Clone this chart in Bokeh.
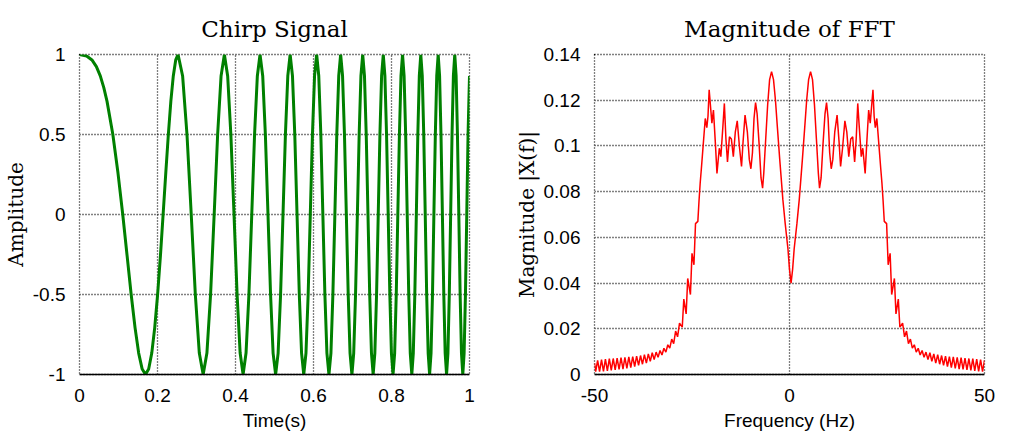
from bokeh.plotting import figure
from bokeh.layouts import row
from bokeh.models import Range1d, FixedTicker, PrintfTickFormatter
from bokeh.embed import file_html
from bokeh.resources import INLINE

# ---------------- data: chirp signal ----------------
time_s = [
    0.0, 0.0182, 0.0319, 0.0433, 0.0533, 0.0623, 0.0706, 0.0855, 0.0987, 0.1109, 0.1221, 0.1325, 0.1424,
    0.1517, 0.1607, 0.1692, 0.1774, 0.1853, 0.1929, 0.2003, 0.2075, 0.2144, 0.2212,
    0.2278, 0.2342, 0.2405, 0.2467, 0.2527,
    0.2644, 0.2756, 0.2865, 0.2970, 0.3072, 0.3171, 0.3267, 0.3361, 0.3453, 0.3542, 0.3630, 0.3715,
    0.3799, 0.3881, 0.3962, 0.4041, 0.4119, 0.4195, 0.4270, 0.4344, 0.4417, 0.4489, 0.4560, 0.4629,
    0.4698, 0.4766, 0.4833, 0.4899, 0.4964, 0.5029, 0.5093, 0.5156, 0.5218, 0.5280, 0.5341, 0.5401,
    0.5461, 0.5520, 0.5578, 0.5636, 0.5694, 0.5750, 0.5807, 0.5863, 0.5918, 0.5973, 0.6027, 0.6081,
    0.6135, 0.6188, 0.6240, 0.6292, 0.6344, 0.6396, 0.6447, 0.6497, 0.6548, 0.6597, 0.6647, 0.6696,
    0.6745, 0.6794, 0.6842, 0.6890, 0.6937, 0.6985, 0.7031, 0.7078, 0.7125, 0.7171, 0.7216, 0.7262,
    0.7307, 0.7352, 0.7397, 0.7441, 0.7486, 0.7530, 0.7573, 0.7617, 0.7660, 0.7703, 0.7746, 0.7789,
    0.7831, 0.7873, 0.7915, 0.7957, 0.7998, 0.8040, 0.8081, 0.8122, 0.8162, 0.8203, 0.8243, 0.8283,
    0.8323, 0.8363, 0.8403, 0.8442, 0.8481, 0.8521, 0.8559, 0.8598, 0.8637, 0.8675, 0.8713, 0.8751,
    0.8789, 0.8827, 0.8865, 0.8902, 0.8940, 0.8977, 0.9014, 0.9051, 0.9087, 0.9124, 0.9160, 0.9197,
    0.9233, 0.9269, 0.9305, 0.9341, 0.9376, 0.9412, 0.9447, 0.9482, 0.9517, 0.9552, 0.9587, 0.9622,
    0.9657, 0.9691, 0.9726, 0.9760, 0.9794, 0.9828, 0.9862, 0.9896, 0.9930, 0.9963, 1.0,
]
amplitude = [
    1.0, 0.991, 0.966, 0.924, 0.866, 0.793, 0.707, 0.5, 0.259, 0.0, -0.259, -0.5, -0.707,
    -0.866, -0.966, -1.0, -0.966, -0.866, -0.707, -0.5, -0.259, 0.0, 0.259,
    0.5, 0.707, 0.866, 0.966, 1.0,
    0.866, 0.5, 0.0, -0.5, -0.866, -1.0, -0.866, -0.5, 0.0, 0.5, 0.866, 1.0,
    0.866, 0.5, 0.0, -0.5, -0.866, -1.0, -0.866, -0.5, 0.0, 0.5, 0.866, 1.0,
    0.866, 0.5, 0.0, -0.5, -0.866, -1.0, -0.866, -0.5, 0.0, 0.5, 0.866, 1.0,
    0.866, 0.5, 0.0, -0.5, -0.866, -1.0, -0.866, -0.5, 0.0, 0.5, 0.866, 1.0,
    0.866, 0.5, 0.0, -0.5, -0.866, -1.0, -0.866, -0.5, 0.0, 0.5, 0.866, 1.0,
    0.866, 0.5, 0.0, -0.5, -0.866, -1.0, -0.866, -0.5, 0.0, 0.5, 0.866, 1.0,
    0.866, 0.5, 0.0, -0.5, -0.866, -1.0, -0.866, -0.5, 0.0, 0.5, 0.866, 1.0,
    0.866, 0.5, 0.0, -0.5, -0.866, -1.0, -0.866, -0.5, 0.0, 0.5, 0.866, 1.0,
    0.866, 0.5, 0.0, -0.5, -0.866, -1.0, -0.866, -0.5, 0.0, 0.5, 0.866, 1.0,
    0.866, 0.5, 0.0, -0.5, -0.866, -1.0, -0.866, -0.5, 0.0, 0.5, 0.866, 1.0,
    0.866, 0.5, 0.0, -0.5, -0.866, -1.0, -0.866, -0.5, 0.0, 0.5, 0.866, 1.0,
    0.866, 0.5, 0.0, -0.5, -0.866, -1.0, -0.866, -0.5, 0.0, 0.5, 0.866,
]

# ---------------- data: FFT magnitude ----------------
freq_hz = [
    -50.0, -49.7, -49.2, -48.7, -48.2, -47.7, -47.2, -46.7, -46.2, -45.7,
    -45.2, -44.7, -44.2, -43.7, -43.2, -42.7, -42.2, -41.7, -41.2, -40.7,
    -40.2, -39.7, -39.2, -38.7, -38.2, -37.7, -37.2, -36.7, -36.2, -35.7,
    -35.2, -34.7, -34.2, -33.7, -33.2, -32.7, -32.2, -31.7, -31.2, -30.7,
    -30.2, -29.7, -29.2, -28.7, -28.2, -27.5, -27.1, -26.5, -26.1, -25.4,
    -25.0, -24.5, -24.1, -23.5, -23.2, -22.9, -22.6, -22.1, -21.6, -21.2,
    -20.9, -20.6, -19.9, -19.5, -19.0, -18.6, -18.0, -17.6, -17.1, -16.7,
    -16.3, -15.9, -15.4, -14.9, -14.4, -13.9, -13.4, -12.8, -12.3, -11.9,
    -11.4, -10.8, -10.3, -9.9, -9.5, -9.1, -8.7, -8.3, -7.8, -7.3,
    -6.9, -6.6, -6.1, -5.6, -5.1, -4.6, -4.1, -3.6, -3.1, -2.5,
    -1.7, -1.1, -0.4, 0.0, 0.4,
    0.8, 1.2, 1.9, 2.5, 3.3, 3.9, 4.4, 4.9, 5.4, 5.9,
    6.4, 6.9, 7.4, 7.7, 8.1, 8.6, 9.1, 9.5, 9.9, 10.3,
    10.7, 11.1, 11.6, 12.2, 12.7, 13.1, 13.6, 14.2, 14.7, 15.2,
    15.7, 16.2, 16.7, 17.1, 17.5, 17.9, 18.4, 18.8, 19.4, 19.8,
    20.3, 20.7, 21.4, 21.7, 22.0, 22.4, 22.9, 23.4, 23.7, 24.0,
    24.3, 24.9, 25.3, 25.8, 26.2, 26.9, 27.3, 27.9, 28.3, 29.0,
    29.5, 30.0, 30.5, 31.0, 31.5, 32.0, 32.5, 33.0, 33.5, 34.0,
    34.5, 35.0, 35.5, 36.0, 36.5, 37.0, 37.5, 38.0, 38.5, 39.0,
    39.5, 40.0, 40.5, 41.0, 41.5, 42.0, 42.5, 43.0, 43.5, 44.0,
    44.5, 45.0, 45.5, 46.0, 46.5, 47.0, 47.5, 48.0, 48.5, 49.0,
    49.5, 50.0,
]
magnitude = [
    0.005, 0.0013, 0.0062, 0.0013, 0.0065, 0.0014, 0.0067, 0.0016, 0.0069, 0.0018,
    0.0070, 0.0020, 0.0072, 0.0022, 0.0074, 0.0024, 0.0075, 0.0027, 0.0077, 0.0030,
    0.0078, 0.0035, 0.0080, 0.0040, 0.0083, 0.0045, 0.0087, 0.0050, 0.0090, 0.0058,
    0.0095, 0.0065, 0.0098, 0.0075, 0.0105, 0.0085, 0.0115, 0.0098, 0.0130, 0.0115,
    0.0155, 0.0135, 0.0190, 0.0165, 0.0225, 0.0207, 0.0330, 0.0265, 0.0420, 0.0350,
    0.0530, 0.0480, 0.0660, 0.0670, 0.0760, 0.0838, 0.0900, 0.1010, 0.1120, 0.1080,
    0.1130, 0.1246, 0.1100, 0.1157, 0.1010, 0.0880, 0.0990, 0.0953, 0.1080, 0.1186,
    0.1030, 0.0930, 0.1040, 0.1030, 0.0953, 0.1060, 0.1110, 0.0990, 0.0910, 0.1020,
    0.1135, 0.1060, 0.0940, 0.0900, 0.0970, 0.1120, 0.1190, 0.1140, 0.1010, 0.0860,
    0.0815, 0.0880, 0.1030, 0.1180, 0.1290, 0.1325, 0.1290, 0.1200, 0.1080, 0.0940,
    0.0765, 0.0660, 0.0550, 0.0460, 0.0400,
    0.0460, 0.0550, 0.0660, 0.0765, 0.0940, 0.1080, 0.1200, 0.1290, 0.1325, 0.1290,
    0.1180, 0.1030, 0.0880, 0.0815, 0.0860, 0.1010, 0.1140, 0.1190, 0.1120, 0.0970,
    0.0900, 0.0940, 0.1060, 0.1135, 0.1020, 0.0910, 0.0990, 0.1110, 0.1060, 0.0953,
    0.1030, 0.1040, 0.0930, 0.1030, 0.1186, 0.1080, 0.0953, 0.0990, 0.0880, 0.1010,
    0.1157, 0.1100, 0.1246, 0.1130, 0.1080, 0.1120, 0.1010, 0.0900, 0.0838, 0.0760,
    0.0670, 0.0660, 0.0480, 0.0530, 0.0350, 0.0420, 0.0265, 0.0330, 0.0207, 0.0225,
    0.0165, 0.0190, 0.0135, 0.0155, 0.0115, 0.0130, 0.0098, 0.0115, 0.0085, 0.0105,
    0.0075, 0.0098, 0.0065, 0.0095, 0.0058, 0.0090, 0.0050, 0.0087, 0.0045, 0.0083,
    0.0040, 0.0080, 0.0035, 0.0078, 0.0030, 0.0077, 0.0027, 0.0075, 0.0024, 0.0074,
    0.0022, 0.0072, 0.0020, 0.0070, 0.0018, 0.0069, 0.0016, 0.0067, 0.0014, 0.0065,
    0.0013, 0.0062,
]

time_ticks = [0, 0.2, 0.4, 0.6, 0.8, 1]
amp_ticks = [-1, -0.5, 0, 0.5, 1]
freq_ticks = [-50, 0, 50]
mag_ticks = [0, 0.02, 0.04, 0.06, 0.08, 0.1, 0.12, 0.14]

SANS = "Liberation Sans"
SERIF = "DejaVu Serif"


def style(p, xticks, yticks, title, xlabel, ylabel):
    p.title.text = title
    p.title.align = "center"
    p.title.text_font = SERIF
    p.title.text_font_size = "23px"
    p.title.text_font_style = "normal"
    p.title.text_color = "black"
    p.title.standoff = 26

    p.xaxis.ticker = FixedTicker(ticks=xticks)
    p.yaxis.ticker = FixedTicker(ticks=yticks)
    p.xgrid.ticker = FixedTicker(ticks=xticks)
    p.ygrid.ticker = FixedTicker(ticks=yticks)
    for ax in (p.xaxis[0], p.yaxis[0]):
        ax.formatter = PrintfTickFormatter(format="%g")
        ax.major_label_text_font = SANS
        ax.major_label_text_font_size = "19px"
        ax.major_label_text_color = "black"
        ax.major_tick_line_color = None
        ax.minor_tick_line_color = None
        ax.major_label_standoff = 8
        ax.axis_label_text_font_style = "normal"
        ax.axis_label_text_color = "black"

    p.xaxis.axis_label = xlabel
    p.xaxis.axis_label_text_font = SANS
    p.xaxis.axis_label_text_font_size = "19px"
    p.xaxis.axis_label_standoff = 5
    p.xaxis.axis_line_color = "black"
    p.xaxis.axis_line_width = 1.5

    p.yaxis.axis_label = ylabel
    p.yaxis.axis_label_text_font = SERIF
    p.yaxis.axis_label_text_font_size = "20px"
    p.yaxis.axis_label_standoff = 2
    p.yaxis.axis_line_color = None

    for g in (p.xgrid[0], p.ygrid[0]):
        g.grid_line_color = "black"
        g.grid_line_dash = "1 2"
        g.grid_line_width = 1.3
        g.grid_line_alpha = 1.0

    p.outline_line_color = "black"
    p.outline_line_dash = "1 2"
    p.outline_line_width = 1.3
    p.background_fill_color = "white"
    p.border_fill_color = "white"


p1 = figure(width=511, height=433, output_backend="svg", toolbar_location=None,
            x_range=Range1d(0, 1), y_range=Range1d(-1, 1),
            min_border_left=78, min_border_right=42, min_border_top=54, min_border_bottom=57)
p1.line(time_s, amplitude, line_color="#008000", line_width=3)
style(p1, time_ticks, amp_ticks, "Chirp Signal", "Time(s)", "Amplitude")

p2 = figure(width=511, height=433, output_backend="svg", toolbar_location=None,
            x_range=Range1d(-50, 50), y_range=Range1d(0, 0.14),
            min_border_left=81, min_border_right=38, min_border_top=54, min_border_bottom=57)
p2.line(freq_hz, magnitude, line_color="#FF0000", line_width=1.5)
style(p2, freq_ticks, mag_ticks, "Magnitude of FFT", "Frequency (Hz)", "Magnitude |X(f)|")

layout = row(p1, p2)
open("out.html", "w").write(file_html(layout, INLINE))
